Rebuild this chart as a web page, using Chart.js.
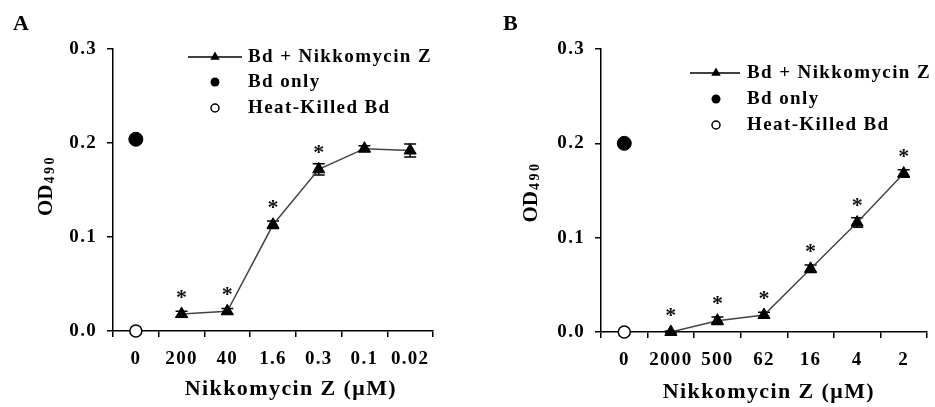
<!DOCTYPE html>
<html><head><meta charset="utf-8">
<script src="https://cdn.jsdelivr.net/npm/chart.js@4/dist/chart.umd.min.js"></script>
<style>
html,body{margin:0;padding:0;background:#fff;width:935px;height:407px;overflow:hidden}
canvas{position:absolute;top:0}
#cA{left:0}
#cB{left:467px}
</style></head><body>
<canvas id="cA" width="467" height="407" style="width:467px;height:407px"></canvas>
<canvas id="cB" width="468" height="407" style="width:468px;height:407px"></canvas>
<script>
// ---------- data ----------
const categoriesA = ['0','200','40','1.6','0.3','0.1','0.02'];
const nikkomycinA = [null,0.018,0.021,0.113,0.172,0.194,0.192];
const nikkomycinErrA = [null,0.003,0.003,0.004,0.006,0.003,0.007];
const bdOnlyA = [0.204,null,null,null,null,null,null];
const bdOnlyErrA = [0.003,null,null,null,null,null,null];
const heatKilledA = [0.0,null,null,null,null,null,null];
const signifA = [false,true,true,true,true,false,false];

const categoriesB = ['0','2000','500','62','16','4','2'];
const nikkomycinB = [null,0.0,0.012,0.018,0.067,0.116,0.168];
const nikkomycinErrB = [null,0.001,0.004,0.003,0.004,0.005,0.004];
const bdOnlyB = [0.200,null,null,null,null,null,null];
const bdOnlyErrB = [0.003,null,null,null,null,null,null];
const heatKilledB = [0.0,null,null,null,null,null,null];
const signifB = [false,true,true,true,true,true,true];

const yTicks = [0,0.1,0.2,0.3];
const legendLabels = ['Bd + Nikkomycin Z','Bd only','Heat-Killed Bd'];
const xTitle = 'Nikkomycin Z (\u03BCM)';
const yTitleMain = 'OD';
const yTitleSub = '490';

// ---------- style / layout ----------
const FONT = "'Liberation Serif','Times New Roman',serif";
const H = 407;

const panels = [
  {id:'cA', letter:'A', W:467, left:113, right:433, top:49, bottom:331,
   categories:categoriesA, nikko:nikkomycinA, nikkoErr:nikkomycinErrA, bd:bdOnlyA, bdErr:bdOnlyErrA, heat:heatKilledA, sig:signifA,
   letterX:13, xTitleFrac:0.556, xTitleY:395, yTitleDx:61, yTitleDy:-4,
   leg:{lx0:75, lx1:129, mx:102, tx:135, rows:[57,82,108]}},
  {id:'cB', letter:'B', W:468, left:134, right:460, top:49, bottom:332,
   categories:categoriesB, nikko:nikkomycinB, nikkoErr:nikkomycinErrB, bd:bdOnlyB, bdErr:bdOnlyErrB, heat:heatKilledB, sig:signifB,
   letterX:36, xTitleFrac:0.515, xTitleY:398, yTitleDx:64, yTitleDy:2,
   leg:{lx0:89, lx1:139, mx:115, tx:146, rows:[73,99,125]}}
];

function drawTriangle(ctx, x, y, r){
  ctx.beginPath();
  ctx.moveTo(x, y - r);
  ctx.lineTo(x + r*Math.sin(2*Math.PI/3), y - r*Math.cos(2*Math.PI/3));
  ctx.lineTo(x + r*Math.sin(4*Math.PI/3), y - r*Math.cos(4*Math.PI/3));
  ctx.closePath();
  ctx.fill();
}

function makeDecor(p){
  return {
    id:'decor_'+p.id,
    beforeUpdate(chart){ chart.ctx.letterSpacing = '1.3px'; },
    beforeDraw(chart){ chart.ctx.letterSpacing = '1.3px'; },
    beforeDatasetsDraw(chart){
      const ctx = chart.ctx, ys = chart.scales.y;
      ctx.save();
      ctx.strokeStyle = '#000'; ctx.lineWidth = 1.5;
      [[0,p.nikko,p.nikkoErr],[1,p.bd,p.bdErr]].forEach(([di,vals,errs])=>{
        const meta = chart.getDatasetMeta(di);
        vals.forEach((v,i)=>{
          const e = errs[i];
          if (v==null || !e) return;
          const x = meta.data[i].x;
          const y1 = ys.getPixelForValue(v+e), y2 = ys.getPixelForValue(v-e);
          ctx.beginPath();
          ctx.moveTo(x,y1); ctx.lineTo(x,y2);
          ctx.moveTo(x-6,y1); ctx.lineTo(x+6,y1);
          ctx.moveTo(x-6,y2); ctx.lineTo(x+6,y2);
          ctx.stroke();
        });
      });
      ctx.restore();
    },
    afterDatasetsDraw(chart){
      const ctx = chart.ctx, ca = chart.chartArea;
      ctx.save();
      // significance stars
      const meta = chart.getDatasetMeta(0);
      ctx.fillStyle = '#111';
      ctx.font = 'bold 22px ' + FONT;
      ctx.letterSpacing = '0px';
      ctx.textAlign = 'center'; ctx.textBaseline = 'middle';
      p.sig.forEach((s,i)=>{
        if (!s) return;
        const pt = meta.data[i];
        ctx.fillText('*', pt.x, pt.y - 16);
      });
      // legend
      const L = p.leg, x0 = ca.left;
      ctx.fillStyle = '#000'; ctx.strokeStyle = '#000';
      ctx.lineWidth = 1.5;
      ctx.beginPath(); ctx.moveTo(x0+L.lx0, L.rows[0]); ctx.lineTo(x0+L.lx1, L.rows[0]); ctx.stroke();
      drawTriangle(ctx, x0+L.mx, L.rows[0], 5.5);
      ctx.beginPath(); ctx.arc(x0+L.mx, L.rows[1], 4.5, 0, Math.PI*2); ctx.fill();
      ctx.beginPath(); ctx.arc(x0+L.mx, L.rows[2], 4, 0, Math.PI*2);
      ctx.fillStyle = '#fff'; ctx.fill(); ctx.stroke();
      ctx.fillStyle = '#000';
      ctx.font = 'bold 19px ' + FONT;
      ctx.letterSpacing = '1.4px';
      ctx.textAlign = 'left'; ctx.textBaseline = 'middle';
      legendLabels.forEach((t,i)=> ctx.fillText(t, x0+L.tx, L.rows[i]));
      // x title
      ctx.font = 'bold 22px ' + FONT;
      ctx.letterSpacing = '1.4px';
      ctx.textAlign = 'center'; ctx.textBaseline = 'alphabetic';
      ctx.fillText(xTitle, ca.left + (ca.right-ca.left)*p.xTitleFrac, p.xTitleY);
      // y title (rotated, with subscript)
      ctx.translate(ca.left - p.yTitleDx, (ca.top+ca.bottom)/2 + p.yTitleDy);
      ctx.rotate(-Math.PI/2);
      ctx.textAlign = 'left';
      ctx.font = 'bold 21px ' + FONT; ctx.letterSpacing = '0px';
      const w1 = ctx.measureText(yTitleMain).width;
      ctx.font = 'bold 14px ' + FONT; ctx.letterSpacing = '2.5px';
      const w2 = ctx.measureText(yTitleSub).width;
      const start = -(w1+w2)/2;
      ctx.font = 'bold 21px ' + FONT; ctx.letterSpacing = '0px';
      ctx.fillText(yTitleMain, start, 0);
      ctx.font = 'bold 14px ' + FONT; ctx.letterSpacing = '2.5px';
      ctx.fillText(yTitleSub, start + w1 + 1, 2);
      ctx.restore();
      // panel letter
      ctx.save();
      ctx.fillStyle = '#000';
      ctx.font = 'bold 22px ' + FONT; ctx.letterSpacing = '0px';
      ctx.textAlign = 'left'; ctx.textBaseline = 'alphabetic';
      ctx.fillText(p.letter, p.letterX, 30);
      ctx.restore();
    }
  };
}

panels.forEach(p=>{
  const tickFont = {family:FONT, size:19, weight:'bold'};
  new Chart(document.getElementById(p.id), {
    type:'line',
    data:{
      labels:p.categories,
      datasets:[
        {label:legendLabels[0], data:p.nikko, borderColor:'#444', borderWidth:1.5, tension:0, fill:false, spanGaps:false, clip:false,
         pointStyle:'triangle', pointRadius:7, pointBackgroundColor:'#000', pointBorderColor:'#000', pointBorderWidth:1},
        {label:legendLabels[1], data:p.bd, showLine:false, clip:false,
         pointStyle:'circle', pointRadius:7, pointBackgroundColor:'#000', pointBorderColor:'#000', pointBorderWidth:1},
        {label:legendLabels[2], data:p.heat, showLine:false, clip:false,
         pointStyle:'circle', pointRadius:6, pointBackgroundColor:'#fff', pointBorderColor:'#000', pointBorderWidth:1.5}
      ]
    },
    options:{
      responsive:false, animation:false, devicePixelRatio:1, events:[],
      layout:{padding:{left:0, top:p.top, right:p.W - p.right, bottom:0}},
      plugins:{legend:{display:false}, tooltip:{enabled:false}},
      scales:{
        x:{
          type:'category', offset:true,
          grid:{offset:true, drawOnChartArea:false, drawTicks:true, tickLength:6, color:'#000', lineWidth:1.5},
          border:{display:true, color:'#000', width:1.5},
          ticks:{color:'#000', font:tickFont, padding:11, autoSkip:false, maxRotation:0, minRotation:0},
          afterFit(s){ s.height = H - p.bottom; }
        },
        y:{
          min:0, max:0.3,
          grid:{drawOnChartArea:false, drawTicks:true, tickLength:6, color:'#000', lineWidth:1.5},
          border:{display:true, color:'#000', width:1.5},
          ticks:{color:'#000', font:tickFont, padding:10, callback:v=>Number(v).toFixed(1)},
          afterBuildTicks(s){ s.ticks = yTicks.map(v=>({value:v})); },
          afterFit(s){ s.width = p.left; }
        }
      }
    },
    plugins:[makeDecor(p)]
  });
});
</script>
</body></html>
